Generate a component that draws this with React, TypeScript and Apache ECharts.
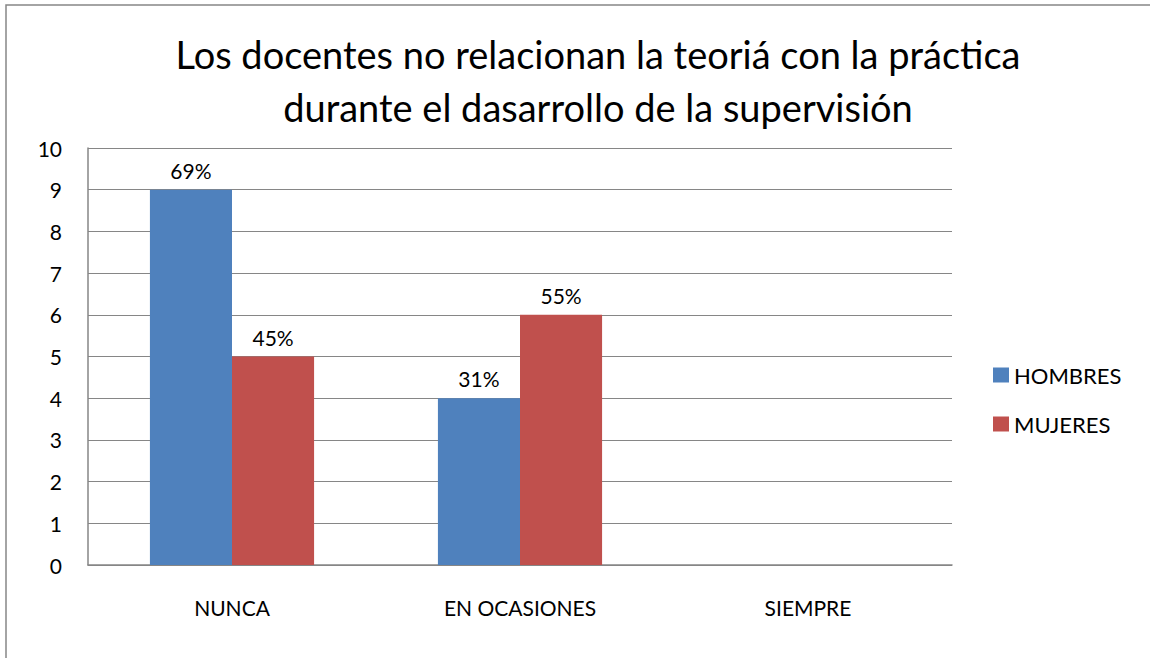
import React, { useEffect, useRef } from "react";
import * as echarts from "echarts";

const titleText = "Los docentes no relacionan la teoriá con la práctica\ndurante el dasarrollo de la supervisión";
const categories = ["NUNCA", "EN OCASIONES", "SIEMPRE"];
const hombres = [9, 4, 0];
const mujeres = [5, 6, 0];
const hombresPct = ["69%", "31%", ""];
const mujeresPct = ["45%", "55%", ""];
const yTicks = { min: 0, max: 10, interval: 1 };

const FONT = "Lato";
const FS = 21;

export default function App() {
  const ref = useRef<HTMLDivElement>(null);
  useEffect(() => {
    if (!ref.current) return;
    const chart = echarts.init(ref.current, null, { renderer: "svg" });
    chart.setOption({
      animation: false,
      backgroundColor: "#ffffff",
      textStyle: { fontFamily: FONT },
      graphic: [
        {
          type: "rect",
          shape: { x: 6, y: 5, width: 1200, height: 700 },
          style: { fill: "none", stroke: "#868686", lineWidth: 1.5 },
          silent: true,
          z: -1,
        },
      ],
      title: {
        text: titleText,
        left: 593,
        textAlign: "center",
        top: 22,
        textStyle: { fontFamily: FONT, fontSize: 38, fontWeight: "normal", color: "#000", lineHeight: 53 },
      },
      legend: {
        orient: "vertical",
        left: 993,
        top: 364,
        padding: 0,
        itemWidth: 16,
        itemHeight: 15,
        itemGap: 27,
        icon: "rect",
        textStyle: { fontFamily: FONT, fontSize: 22, color: "#000", padding: [0, 0, 0, 0] },
        data: ["HOMBRES", "MUJERES"],
      },
      grid: { left: 88, right: 198, top: 148, bottom: 93, containLabel: false },
      xAxis: {
        type: "category",
        data: categories,
        axisLine: { lineStyle: { color: "#868686", width: 1.5 } },
        axisTick: { show: false },
        axisLabel: { fontFamily: FONT, fontSize: FS, color: "#000", margin: 32 },
      },
      yAxis: {
        type: "value",
        min: yTicks.min,
        max: yTicks.max,
        interval: yTicks.interval,
        axisLine: { show: true, lineStyle: { color: "#868686", width: 1.5 } },
        axisTick: { show: false },
        splitLine: { lineStyle: { color: "#868686", width: 1 } },
        axisLabel: { fontFamily: FONT, fontSize: FS, color: "#000", margin: 26 },
      },
      series: [
        {
          name: "HOMBRES",
          type: "bar",
          data: hombres,
          barGap: "0%",
          barCategoryGap: "43%",
          itemStyle: { color: "#4F81BD" },
          label: {
            show: true,
            position: "top",
            distance: 9,
            fontFamily: FONT,
            fontSize: FS,
            color: "#000",
            formatter: (p: any) => hombresPct[p.dataIndex],
          },
        },
        {
          name: "MUJERES",
          type: "bar",
          data: mujeres,
          barGap: "0%",
          barCategoryGap: "43%",
          itemStyle: { color: "#C0504D" },
          label: {
            show: true,
            position: "top",
            distance: 9,
            fontFamily: FONT,
            fontSize: FS,
            color: "#000",
            formatter: (p: any) => mujeresPct[p.dataIndex],
          },
        },
      ],
    });
    return () => chart.dispose();
  }, []);
  return (
    <div
      ref={ref}
      style={{ position: "fixed", left: 0, top: 0, width: 1150, height: 658 }}
    />
  );
}
